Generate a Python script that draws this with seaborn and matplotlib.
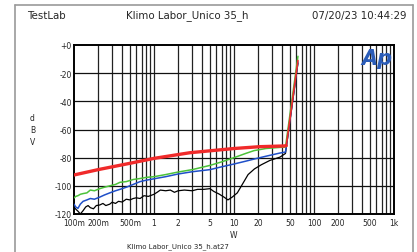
import numpy as np
import pandas as pd
import matplotlib
matplotlib.use("Agg")
import matplotlib.pyplot as plt
import matplotlib.ticker as mticker
import seaborn as sns

# Dati (W, dBV)
red_w = [0.1, 0.2, 0.5, 1.0, 2.8, 10, 21, 42, 45, 63]
red_db = [-92.3, -88.5, -84.0, -80.5, -76.5, -73.5, -72.2, -71.7, -71.5, -11]

green_w = [0.1, 0.105, 0.112, 0.12, 0.13, 0.145, 0.16, 0.18, 0.21, 0.24, 0.28, 0.33,
           0.376, 0.45, 0.55, 0.67, 0.8, 1.0, 1.4, 2.0, 3.0, 5.0, 7.0, 10, 14,
           17.8, 25, 37.6, 44, 63]
green_db = [-108.6, -107.5, -107.0, -106.0, -105.5, -105.0, -103.0, -103.5, -102.0, -101.0,
            -100.0, -99.0, -97.5, -97.0, -95.5, -94.8, -94.0, -93.5, -92.0, -90.2,
            -88.5, -85.5, -83.0, -80.0, -77.0, -75.0, -73.5, -72.7, -72.5, -8]

blue_w = [0.1, 0.105, 0.112, 0.12, 0.13, 0.145, 0.16, 0.18, 0.21, 0.24, 0.28, 0.33,
          0.376, 0.45, 0.55, 0.67, 0.8, 1.0, 1.4, 2.0, 3.0, 5.0, 7.0, 10, 14,
          17.8, 25, 37.6, 44, 63]
blue_db = [-113.0, -115.0, -116.0, -113.0, -111.0, -110.0, -109.0, -109.5, -108.0, -106.5,
           -105.0, -103.5, -102.5, -101.0, -99.0, -97.0, -96.0, -95.0, -93.5, -91.6,
           -90.0, -88.5, -86.5, -84.5, -82.5, -81.0, -79.0, -76.7, -76.0, -12]

black_w = [0.1, 0.105, 0.112, 0.12, 0.13, 0.14, 0.15, 0.16, 0.175, 0.19, 0.21, 0.23,
           0.25, 0.28, 0.3, 0.33, 0.36, 0.4, 0.45, 0.5, 0.55, 0.6, 0.67, 0.75, 0.85,
           1.0, 1.1, 1.2, 1.4, 1.6, 1.8, 2.0, 2.4, 3.0, 3.5, 4.2, 5.0, 5.6, 6.5, 7.5,
           8.4, 9.5, 11, 13, 15, 18, 22, 28, 37.6, 44, 63]
black_db = [-115.0, -116.5, -118.0, -120.0, -117.6, -115.0, -114.0, -115.5, -116.3, -114.0,
            -113.6, -112.5, -114.0, -113.0, -111.6, -112.5, -111.0, -111.5, -109.5, -110.0,
            -109.0, -108.5, -109.0, -107.0, -107.5, -106.0, -104.5, -103.0, -103.5, -103.0,
            -104.6, -103.5, -103.0, -103.5, -102.5, -102.5, -102.0, -104.0, -105.8, -108.0,
            -110.0, -108.0, -105.0, -98.0, -92.0, -88.0, -85.0, -82.0, -79.6, -77.0, -13]

x_ticks = [0.1, 0.2, 0.5, 1, 2, 5, 10, 20, 50, 100, 200, 500, 1000]
x_labels = ["100m", "200m", "500m", "1", "2", "5", "10", "20", "50", "100", "200", "500", "1k"]
y_ticks = [-120, -100, -80, -60, -40, -20, 0]
y_labels = ["-120", "-100", "-80", "-60", "-40", "-20", "+0"]

sns.set_style("white")
plt.rcParams['font.family'] = ['DejaVu Sans']

fig = plt.figure(figsize=(4.17, 2.53), dpi=100)
ax = fig.add_axes([74 / 417, 1 - 215 / 253, 320 / 417, 169 / 253])

# Cornice esterna grigia
fig.add_artist(plt.Line2D([15 / 417, 15 / 417], [0, 1 - 6 / 253], color="#9a9a9a", lw=1.2))
fig.add_artist(plt.Line2D([15 / 417, 413 / 417], [1 - 6 / 253, 1 - 6 / 253], color="#9a9a9a", lw=1.2))
fig.add_artist(plt.Line2D([413 / 417, 413 / 417], [0, 1 - 6 / 253], color="#9a9a9a", lw=1.2))

ax.set_xscale("log")
ax.set_xlim(0.1, 1000)
ax.set_ylim(-120, 0)

# Griglia
for d in [0.1, 1, 10, 100]:
    for m in range(1, 10):
        v = d * m
        if 0.1 < v < 1000:
            ax.axvline(v, color="#222222", lw=0.9, zorder=1)
for v in y_ticks[1:-1]:
    ax.axhline(v, color="#111111", lw=0.9, zorder=1)

sns.lineplot(x=black_w, y=black_db, ax=ax, color="black", lw=0.9, sort=False, estimator=None, zorder=3)
sns.lineplot(x=blue_w, y=blue_db, ax=ax, color="#1f4fc8", lw=1.1, sort=False, estimator=None, zorder=4)
sns.lineplot(x=green_w, y=green_db, ax=ax, color="#4cc23a", lw=1.1, sort=False, estimator=None, zorder=5)
# rosso: tratto spesso fino alla saturazione, poi sottile
sns.lineplot(x=red_w[:-1], y=red_db[:-1], ax=ax, color="#f02a2a", lw=2.4, sort=False, estimator=None, zorder=6)
sns.lineplot(x=red_w[-2:], y=red_db[-2:], ax=ax, color="#f02a2a", lw=1.2, sort=False, estimator=None, zorder=6)

ax.xaxis.set_major_locator(mticker.FixedLocator(x_ticks))
ax.xaxis.set_major_formatter(mticker.FixedFormatter(x_labels))
ax.xaxis.set_minor_locator(mticker.NullLocator())
ax.yaxis.set_major_locator(mticker.FixedLocator(y_ticks))
ax.yaxis.set_major_formatter(mticker.FixedFormatter(y_labels))
ax.yaxis.set_minor_locator(mticker.MultipleLocator(2))
ax.tick_params(axis="x", which="major", length=0, labelsize=5.5, pad=3)
ax.tick_params(axis="y", which="major", length=4, direction="in", labelsize=5.5, pad=1.5, width=0.8)
ax.tick_params(axis="y", which="minor", length=2.5, direction="in", width=0.6)
for s in ax.spines.values():
    s.set_color("black")
    s.set_linewidth(1.4)

ax.set_xlabel("W", fontsize=5.5, labelpad=2)
ax.set_ylabel("d\nB\nV", fontsize=5.5, rotation=0, linespacing=1.4, va="center", labelpad=16)

ax.text(0.995, 0.985, "Ap", transform=ax.transAxes, ha="right", va="top", fontsize=15,
        fontweight="bold", style="italic", color="#2a5cb8", zorder=7)

fig.text(27 / 417, 1 - 16 / 253, "TestLab", fontsize=7.4, va="center", ha="left")
fig.text(187 / 417, 1 - 16 / 253, "Klimo Labor_Unico 35_h", fontsize=7.4, va="center", ha="center")
fig.text(406 / 417, 1 - 16 / 253, "07/20/23 10:44:29", fontsize=7.4, va="center", ha="right")
fig.text(178 / 417, 1 - 247 / 253, "Klimo Labor_Unico 35_h.at27", fontsize=5, va="center", ha="center")

fig.savefig("out.png", dpi=100)
